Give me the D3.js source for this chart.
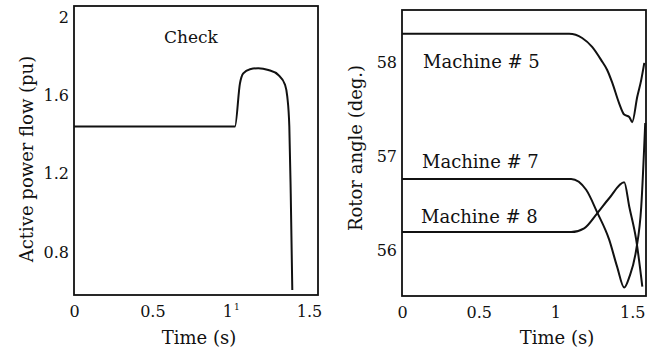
<!DOCTYPE html>
<html>
<head>
<meta charset="utf-8">
<script src="https://cdn.jsdelivr.net/npm/d3@7"></script>
<style>
  body { margin: 0; background: #fff; }
  text { font-family: "DejaVu Serif", serif; fill: #111; }
</style>
</head>
<body>
<div id="chart"></div>
<script>
// values

// left panel: active power flow
const powerTime = [0, 0.5, 1.027, 1.059, 1.080, 1.123, 1.176, 1.240, 1.304, 1.347, 1.361, 1.374, 1.383, 1.393]
const powerFlow = [1.44, 1.44, 1.44, 1.661, 1.712, 1.733, 1.738, 1.729, 1.704, 1.653, 1.593, 1.44, 1.10, 0.606]
const powerTicksX = [0, 0.5, 1, 1.5]
const powerTicksY = [0.8, 1.2, 1.6, 2]

// right panel: rotor angles
const m5Time = [0, 1.089, 1.174, 1.239, 1.298, 1.337, 1.370, 1.415, 1.448, 1.481, 1.500, 1.533, 1.559, 1.579]
const m5Angle = [58.30, 58.30, 58.255, 58.16, 58.02, 57.915, 57.78, 57.56, 57.44, 57.415, 57.36, 57.63, 57.81, 57.99]
const m7Time = [0, 1.102, 1.20, 1.272, 1.35, 1.402, 1.448, 1.481, 1.526, 1.559, 1.585]
const m7Angle = [56.755, 56.755, 56.64, 56.40, 56.11, 55.82, 55.60, 55.71, 56.0, 56.46, 57.35]
const m8Time = [0, 1.102, 1.187, 1.272, 1.35, 1.448, 1.481, 1.526, 1.566]
const m8Angle = [56.19, 56.19, 56.23, 56.39, 56.55, 56.72, 56.46, 56.11, 55.61]
const angleTicksX = [0, 0.5, 1, 1.5]
const angleTicksY = [56, 57, 58]
const machineLabels = ["Machine # 5", "Machine # 7", "Machine # 8"]

const svg = d3.select("#chart").append("svg")
    .attr("width", 660)
    .attr("height", 351)

function zip(ts, vs) {
    return ts.map((t, i) => [t, vs[i]])
}

// draws frame, axes and titles, gives back the scales
function panel(cfg) {
    const x = d3.scaleLinear().domain(cfg.xDomain).range([cfg.left, cfg.right])
    const y = d3.scaleLinear().domain(cfg.yDomain).range([cfg.bottom, cfg.top])

    const xAxis = svg.append("g")
        .attr("transform", `translate(0, ${cfg.bottom})`)
        .call(d3.axisBottom(x).tickValues(cfg.xTicks).tickSize(0).tickPadding(11).tickFormat(d3.format("")))
        .call(g => g.select(".domain").remove())
    xAxis.selectAll("text").style("font-size", "16px").style("font-family", "DejaVu Serif")

    svg.append("g")
        .attr("transform", `translate(${cfg.left}, 0)`)
        .call(d3.axisLeft(y).tickValues(cfg.yTicks).tickSize(0).tickPadding(5).tickFormat(d3.format("")))
        .call(g => g.select(".domain").remove())
        .selectAll("text").style("font-size", "16px").style("font-family", "DejaVu Serif")

    svg.append("rect")
        .attr("x", cfg.left).attr("y", cfg.top)
        .attr("width", cfg.right - cfg.left).attr("height", cfg.bottom - cfg.top)
        .attr("fill", "none").attr("stroke", "#111").attr("stroke-width", 1.8)

    svg.append("text")
        .attr("x", (cfg.left + cfg.right) / 2 + cfg.xTitleShift).attr("y", 344)
        .attr("text-anchor", "middle").style("font-size", "18px")
        .text("Time (s)")

    svg.append("text")
        .attr("transform", `translate(${cfg.yTitleX}, ${cfg.yTitleY}) rotate(-90)`)
        .attr("dy", "0.35em")
        .attr("text-anchor", "middle").style("font-size", "18px")
        .text(cfg.yTitle)

    return { x, y, xAxis }
}

function drawLine(s, pts) {
    const line = d3.line()
        .x(d => s.x(d[0]))
        .y(d => s.y(d[1]))
        .curve(d3.curveMonotoneX)
    svg.append("path")
        .attr("d", line(pts))
        .attr("fill", "none")
        .attr("stroke", "#111")
        .attr("stroke-width", 2)
}

// left
const left = panel({
    left: 74, right: 318, top: 6, bottom: 295,
    xDomain: [0, 1.557], yDomain: [0.580, 2.056],
    xTicks: powerTicksX, yTicks: powerTicksY,
    xTitleShift: 3, yTitle: "Active power flow (pu)", yTitleX: 27, yTitleY: 159
})
drawLine(left, zip(powerTime, powerFlow))

// the little raised mark after the "1" tick label
left.xAxis.selectAll(".tick")
    .filter(d => d === 1)
    .select("text")
    .append("tspan")
    .attr("dx", "1")
    .attr("dy", "-0.8em")
    .style("font-size", "9px")
    .text("1")

svg.append("text")
    .attr("x", 191).attr("y", 43)
    .attr("text-anchor", "middle").style("font-size", "17px")
    .text("Check")

// right
const right = panel({
    left: 402, right: 646, top: 10, bottom: 296,
    xDomain: [0, 1.59], yDomain: [55.51, 58.553],
    xTicks: angleTicksX, yTicks: angleTicksY,
    xTitleShift: 33, yTitle: "Rotor angle (deg.)", yTitleX: 356, yTitleY: 148
})
drawLine(right, zip(m5Time, m5Angle))
drawLine(right, zip(m7Time, m7Angle))
drawLine(right, zip(m8Time, m8Angle))

const labelPos = [[423, 68], [422, 168], [421, 223]]
svg.selectAll(".mlabel")
    .data(machineLabels)
    .join("text")
    .attr("class", "mlabel")
    .attr("x", (d, i) => labelPos[i][0])
    .attr("y", (d, i) => labelPos[i][1])
    .style("font-size", "18px")
    .text(d => d)
</script>
</body>
</html>
